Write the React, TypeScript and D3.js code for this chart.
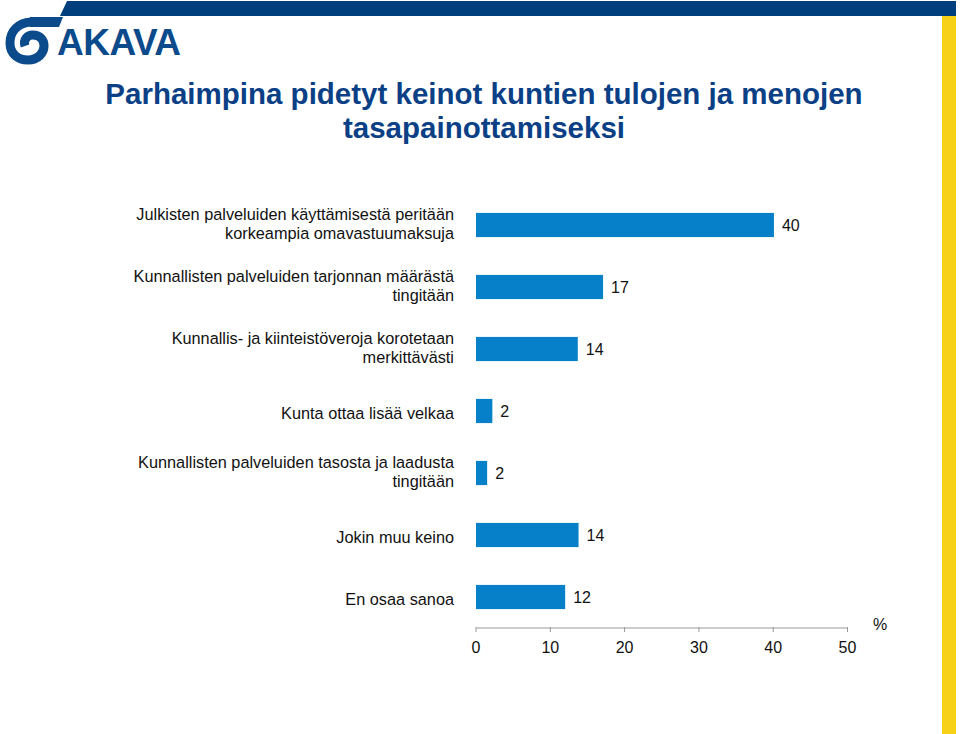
import React from "react";
import * as d3 from "d3";

const categories: string[][] = [
  ["Julkisten palveluiden käyttämisestä peritään", "korkeampia omavastuumaksuja"],
  ["Kunnallisten palveluiden tarjonnan määrästä", "tingitään"],
  ["Kunnallis- ja kiinteistöveroja korotetaan", "merkittävästi"],
  ["Kunta ottaa lisää velkaa"],
  ["Kunnallisten palveluiden tasosta ja laadusta", "tingitään"],
  ["Jokin muu keino"],
  ["En osaa sanoa"],
];
const values: number[] = [40.1, 17.1, 13.7, 2.2, 1.5, 13.8, 12.0];
const valueLabels: string[] = ["40", "17", "14", "2", "2", "14", "12"];
const xTicks: number[] = [0, 10, 20, 30, 40, 50];
const titleLines: string[] = [
  "Parhaimpina pidetyt keinot kuntien tulojen ja menojen",
  "tasapainottamiseksi",
];

const W = 960;
const H = 734;
const FONT = "Liberation Sans, Arial, Helvetica, sans-serif";

export default function App() {
  const x = d3.scaleLinear().domain([0, 50]).range([476, 847.5]);
  const y = d3
    .scaleBand<number>()
    .domain(categories.map((_, i) => i))
    .range([194, 628])
    .paddingInner(0.61)
    .paddingOuter(0.305);
  const bh = y.bandwidth();

  return (
    <svg
      width={W}
      height={H}
      style={{ position: "absolute", left: 0, top: 0, background: "#fff" }}
      fontFamily={FONT}
    >
      {/* yellow right bar */}
      <rect x={942} y={10} width={14} height={724} fill="#F7D117" />
      {/* top stripe */}
      <path d="M 67 1 L 956 1 L 956 16 L 60 16 Z" fill="#003F7E" />
      {/* logo swirl */}
      <path d="M 63 17 L 59 27 L 30 27 L 30 17 Z" fill="#0B4A8B" />
      <path
        d="M 31 22 C 18 23, 10 31, 10 43 C 10 54, 18 60, 28 60 C 38 60, 44 53, 44 46 C 44 39, 39 35, 33 35 C 27 35, 23 40, 25 46"
        fill="none"
        stroke="#0B4A8B"
        strokeWidth={9}
        strokeLinecap="butt"
      />
      <text
        x={57}
        y={55}
        fontSize={37}
        fontWeight="bold"
        fill="#0B4A8B"
        letterSpacing={-0.5}
      >
        AKAVA
      </text>

      {/* title */}
      {titleLines.map((t, i) => (
        <text
          key={i}
          x={484}
          y={104 + i * 34}
          textAnchor="middle"
          fontSize={29.5}
          fontWeight="bold"
          fill="#0B3F86"
        >
          {t}
        </text>
      ))}

      {/* bars */}
      {values.map((v, i) => {
        const yc = (y(i) as number) + bh / 2;
        const lines = categories[i];
        return (
          <g key={i}>
            <rect x={x(0)} y={y(i)} width={x(v) - x(0)} height={bh} fill="#0680C9" />
            <text x={x(v) + 8} y={yc + 6} fontSize={16} fill="#111">
              {valueLabels[i]}
            </text>
            {lines.map((l, j) => (
              <text
                key={j}
                x={454}
                y={lines.length === 1 ? yc + 8 : yc - 5 + j * 19}
                textAnchor="end"
                fontSize={16.3}
                fill="#111"
              >
                {l}
              </text>
            ))}
          </g>
        );
      })}

      {/* axis */}
      <line x1={x(0)} x2={x(50)} y1={628} y2={628} stroke="#999" strokeWidth={1} />
      {xTicks.map((t) => (
        <g key={t}>
          <line x1={x(t)} x2={x(t)} y1={627} y2={632} stroke="#999" strokeWidth={1} />
          <text x={x(t)} y={653} textAnchor="middle" fontSize={16} fill="#111">
            {t}
          </text>
        </g>
      ))}
      <text x={880} y={630} textAnchor="middle" fontSize={16} fill="#111">
        %
      </text>
    </svg>
  );
}
